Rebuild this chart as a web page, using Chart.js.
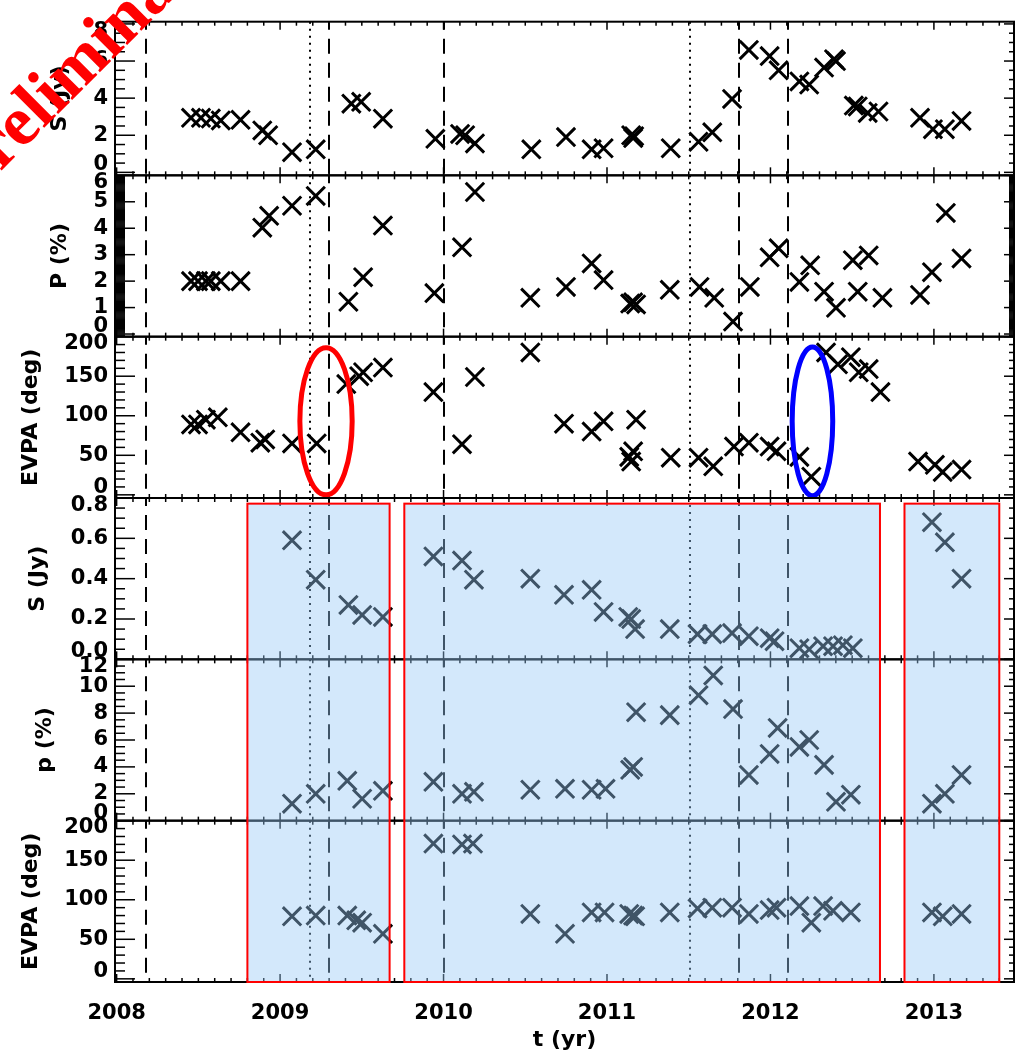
<!DOCTYPE html>
<html>
<head>
<meta charset="utf-8">
<script src="https://cdn.jsdelivr.net/npm/chart.js@4.4.1/dist/chart.umd.min.js"></script>
<style>
  html, body { margin: 0; padding: 0; background: #fff; }
  #wrap { position: relative; width: 1030px; height: 1056px; }
  #wrap canvas { position: absolute; left: 0; top: 0; }
  #c0 { z-index: 10; }
</style>
</head>
<body>
<div id="wrap">
  <canvas id="c0" width="1030" height="1056"></canvas>
  <canvas id="c1" width="1030" height="1056"></canvas>
  <canvas id="c2" width="1030" height="1056"></canvas>
  <canvas id="c3" width="1030" height="1056"></canvas>
  <canvas id="c4" width="1030" height="1056"></canvas>
  <canvas id="c5" width="1030" height="1056"></canvas>
</div>
<script>
// ---- data ----
const years = [2008, 2009, 2010, 2011, 2012, 2013];
const dashedT = [2008.18, 2009.30, 2010.0, 2011.81, 2012.11];
const dottedT = [2009.18, 2011.51];

// panel 1: total flux
const sTopT = [2008.455, 2008.516, 2008.576, 2008.637, 2008.758, 2008.891, 2008.927, 2009.073, 2009.218, 2009.436,
  2009.496, 2009.629, 2009.950, 2010.101, 2010.132, 2010.192, 2010.537, 2010.749, 2010.906, 2010.979,
  2011.148, 2011.160, 2011.166, 2011.390, 2011.560, 2011.644, 2011.765, 2011.868, 2011.995, 2012.050,
  2012.177, 2012.237, 2012.328, 2012.389, 2012.401, 2012.510, 2012.534, 2012.595, 2012.661, 2012.915,
  2012.994, 2013.067, 2013.169];
const sTopV = [2.94, 2.94, 2.9, 2.8, 2.83, 2.26, 2.0, 1.09, 1.24, 3.7,
  3.8, 2.89, 1.81, 2.07, 2.0, 1.56, 1.24, 1.9, 1.24, 1.3,
  2.0, 1.85, 1.95, 1.3, 1.65, 2.16, 3.96, 6.6, 6.27, 5.5,
  4.9, 4.73, 5.65, 6.1, 6.0, 3.6, 3.55, 3.2, 3.28, 2.94,
  2.33, 2.33, 2.77];

// panel 2: polarisation degree
const pTopT = [2008.455, 2008.498, 2008.546, 2008.576, 2008.637, 2008.758, 2008.891, 2008.933, 2009.073, 2009.218,
  2009.418, 2009.508, 2009.629, 2009.944, 2010.113, 2010.192, 2010.531, 2010.749, 2010.906, 2010.979,
  2011.142, 2011.160, 2011.178, 2011.384, 2011.566, 2011.656, 2011.771, 2011.874, 2011.995, 2012.050,
  2012.177, 2012.243, 2012.328, 2012.401, 2012.504, 2012.534, 2012.601, 2012.685, 2012.915, 2012.988,
  2013.073, 2013.169];
const pTopV = [2.0, 2.0, 2.0, 2.0, 2.0, 2.0, 4.02, 4.47, 4.85, 5.22,
  1.22, 2.15, 4.1, 1.55, 3.28, 5.37, 1.37, 1.78, 2.67, 2.04,
  1.15, 1.2, 1.12, 1.67, 1.78, 1.37, 0.47, 1.78, 2.9, 3.24,
  1.97, 2.6, 1.6, 0.99, 2.79, 1.6, 2.97, 1.37, 1.48, 2.34,
  4.58, 2.86];

// panel 3: EVPA
const evTopT = [2008.455, 2008.498, 2008.546, 2008.619, 2008.758, 2008.879, 2008.909, 2009.073, 2009.224, 2009.405,
  2009.484, 2009.508, 2009.629, 2009.938, 2010.113, 2010.192, 2010.531, 2010.737, 2010.906, 2010.979,
  2011.136, 2011.148, 2011.160, 2011.178, 2011.390, 2011.560, 2011.650, 2011.777, 2011.868, 2011.995,
  2012.037, 2012.177, 2012.250, 2012.340, 2012.413, 2012.492, 2012.540, 2012.601, 2012.673, 2012.903,
  2013.006, 2013.054, 2013.169];
const evTopV = [89, 89, 95, 98, 79, 66, 70, 65, 65, 140,
  150, 155, 161, 130, 64, 149, 180, 90, 80, 93,
  48, 42, 55, 95, 47, 47, 36, 61, 66, 61,
  55, 48, 23, 180, 165, 174, 155, 159, 130, 42,
  38, 29, 32];

// panel 4: flux (second band)
const sBotT = [2009.073, 2009.218, 2009.418, 2009.502, 2009.629, 2009.938, 2010.113, 2010.186, 2010.531, 2010.737,
  2010.906, 2010.979, 2011.130, 2011.148, 2011.172, 2011.384, 2011.554, 2011.644, 2011.765, 2011.868,
  2011.995, 2012.025, 2012.177, 2012.237, 2012.322, 2012.383, 2012.443, 2012.504, 2012.988, 2013.067,
  2013.169];
const sBotV = [0.59, 0.395, 0.27, 0.22, 0.21, 0.51, 0.49, 0.395, 0.40, 0.32,
  0.345, 0.235, 0.21, 0.20, 0.15, 0.15, 0.125, 0.125, 0.13, 0.115,
  0.105, 0.09, 0.055, 0.05, 0.065, 0.065, 0.07, 0.055, 0.68, 0.58,
  0.40];

// panel 5: polarisation degree (second band)
const pBotT = [2009.073, 2009.218, 2009.411, 2009.502, 2009.629, 2009.938, 2010.113, 2010.186, 2010.531, 2010.743,
  2010.906, 2010.991, 2011.142, 2011.160, 2011.178, 2011.384, 2011.560, 2011.650, 2011.771, 2011.868,
  2011.995, 2012.044, 2012.177, 2012.237, 2012.328, 2012.401, 2012.492, 2012.988, 2013.067, 2013.169];
const pBotV = [1.26, 2.0, 2.96, 1.63, 2.22, 2.89, 2.0, 2.15, 2.3, 2.37,
  2.3, 2.37, 3.78, 4.0, 8.07, 7.85, 9.33, 10.8, 8.3, 3.4,
  4.96, 6.9, 5.48, 6.0, 4.15, 1.4, 1.93, 1.26, 2.0, 3.4];

// panel 6: EVPA (second band)
const evBotT = [2009.073, 2009.218, 2009.411, 2009.466, 2009.502, 2009.629, 2009.938, 2010.113, 2010.180, 2010.531,
  2010.743, 2010.906, 2010.985, 2011.136, 2011.160, 2011.172, 2011.384, 2011.554, 2011.644, 2011.765,
  2011.868, 2011.995, 2012.037, 2012.177, 2012.250, 2012.322, 2012.383, 2012.492, 2012.988, 2013.054,
  2013.169];
const evBotV = [79, 80, 80, 74, 71, 57, 171, 170, 171, 82,
  57, 84, 84, 82, 80, 79, 84, 89, 90, 90,
  82, 87, 90, 92, 71, 92, 86, 84, 84, 79,
  82];

// tick labels
const sTopTicks = [0, 2, 4, 6, 8];
const pTopTicks = [0, 1, 2, 3, 4, 5, 6];
const evTicks = [0, 50, 100, 150, 200];
const sBotTicks = [0, 0.2, 0.4, 0.6, 0.8];
const pBotTicks = [0, 2, 4, 6, 8, 10, 12];

// highlighted time ranges (panels 4-6) and marked epochs (panel 3)
const boxStart = [2008.80, 2009.76, 2012.82];
const boxEnd = [2009.67, 2012.67, 2013.40];
const boxTopS = 0.772;
const ringT = [2009.281, 2012.257];
const ringEvpa = [93, 93];
const ringHalfT = [0.16, 0.124];
const ringHalfEvpa = [93, 94];
const ringColor = ['#ff0000', '#0000ff'];

// ---- layout ----
const X_MIN = 2007.99, X_MAX = 2013.49;
const W = 1030, H = 1056, TOP = 14, BOTTOM = 982, AXIS_W = 115, RIGHT_PAD = 5;
const PANEL_H = (BOTTOM - TOP) / 6;
const FONT = 'DejaVu Sans';

const panels = [
  { t: sTopT, v: sTopV, min: -0.16, max: 8.12, ticks: sTopTicks, major: 2, minor: 0.5, title: 'S (Jy)', dec: 0 },
  { t: pTopT, v: pTopV, min: -0.1, max: 6, ticks: pTopTicks, major: 1, minor: 0.04, title: 'P (%)', dec: 0 },
  { t: evTopT, v: evTopV, min: -4, max: 200, ticks: evTicks, major: 50, minor: 10, title: 'EVPA (deg)', dec: 0 },
  { t: sBotT, v: sBotV, min: 0, max: 0.8, ticks: sBotTicks, major: 0.2, minor: 0.05, title: 'S (Jy)', dec: 1 },
  { t: pBotT, v: pBotV, min: 0, max: 12, ticks: pBotTicks, major: 2, minor: 0.5, title: 'p (%)', dec: 0 },
  { t: evBotT, v: evBotV, min: -4, max: 200, ticks: evTicks, major: 50, minor: 10, title: 'EVPA (deg)', dec: 0 }
];

const charts = [];

function seg(ctx, x1, y1, x2, y2) { ctx.beginPath(); ctx.moveTo(x1, y1); ctx.lineTo(x2, y2); ctx.stroke(); }

const panelDeco = {
  id: 'panelDeco',
  beforeDatasetsDraw(chart) {
    const { ctx, chartArea: a, scales: { x } } = chart;
    ctx.save();
    ctx.beginPath(); ctx.rect(a.left, a.top, a.right - a.left, a.bottom - a.top); ctx.clip();
    ctx.strokeStyle = '#000'; ctx.lineWidth = 2;
    [[dashedT, [15, 9], 7], [dottedT, [2, 5], 0]].forEach(([arr, dash, off]) => {
      ctx.setLineDash(dash); ctx.lineDashOffset = off;
      arr.forEach(t => { const px = Math.round(x.getPixelForValue(t)); seg(ctx, px, a.top, px, a.bottom); });
    });
    ctx.restore();
  },
  afterDatasetsDraw(chart, args, o) {
    const { ctx, chartArea: a, scales: { x, y } } = chart;
    const p = panels[o.idx];
    ctx.save();
    ctx.strokeStyle = '#000'; ctx.lineWidth = 1.5;
    // x ticks, top and bottom, inward
    for (let k = Math.ceil(X_MIN * 10); k <= Math.floor(X_MAX * 10); k++) {
      const px = x.getPixelForValue(k / 10);
      const len = k % 10 === 0 ? 8 : 4;
      seg(ctx, px, a.bottom, px, a.bottom - len);
      seg(ctx, px, a.top, px, a.top + len);
    }
    // y ticks, left long, right short
    const n0 = Math.ceil(p.min / p.minor - 1e-6), n1 = Math.floor(p.max / p.minor + 1e-6);
    for (let k = n0; k <= n1; k++) {
      const v = k * p.minor, py = y.getPixelForValue(v);
      const major = Math.abs(v / p.major - Math.round(v / p.major)) < 1e-6;
      seg(ctx, a.left, py, a.left + (major ? 20 : 10), py);
      seg(ctx, a.right, py, a.right - (major ? 10 : 5), py);
    }
    ctx.lineWidth = 2;
    ctx.strokeRect(a.left, a.top, a.right - a.left, a.bottom - a.top);
    // y title, left of the widest tick label
    ctx.font = `bold 21px "${FONT}"`;
    const maxW = Math.max(...p.ticks.map(v => ctx.measureText(v.toFixed(p.dec)).width));
    ctx.font = `bold 22px "${FONT}"`;
    ctx.fillStyle = '#000';
    ctx.translate(a.left - 7 - maxW - 22 - 11, (a.top + a.bottom) / 2);
    ctx.rotate(-Math.PI / 2);
    ctx.textAlign = 'center'; ctx.textBaseline = 'middle';
    ctx.fillText(p.title, 0, 0);
    ctx.restore();
  },
  afterDraw(chart, args, o) {
    const { ctx, chartArea: a, scales: { x, y } } = chart;
    if (o.rings) {
      ctx.save();
      ctx.lineWidth = 5;
      ringT.forEach((t, i) => {
        const cx = x.getPixelForValue(t), cy = y.getPixelForValue(ringEvpa[i]);
        const rx = Math.abs(x.getPixelForValue(t + ringHalfT[i]) - cx);
        const ry = Math.abs(y.getPixelForValue(ringEvpa[i] + ringHalfEvpa[i]) - cy);
        ctx.strokeStyle = ringColor[i];
        ctx.beginPath(); ctx.ellipse(cx, cy, rx, ry, 0, 0, Math.PI * 2); ctx.stroke();
      });
      ctx.restore();
    }
    if (o.boxes) {
      const top = charts[3].scales.y.getPixelForValue(boxTopS);
      ctx.save();
      boxStart.forEach((t0, i) => {
        const x0 = x.getPixelForValue(t0), x1 = x.getPixelForValue(boxEnd[i]);
        ctx.fillStyle = 'rgba(151,200,245,0.42)';
        ctx.fillRect(x0, top, x1 - x0, a.bottom - top);
        ctx.strokeStyle = '#ff0000'; ctx.lineWidth = 2;
        ctx.strokeRect(x0, top, x1 - x0, a.bottom - top);
      });
      ctx.restore();
    }
    if (o.stamp) {
      ctx.save();
      ctx.fillStyle = '#ff0000';
      ctx.font = 'bold 70px "Liberation Serif"';
      ctx.translate(-30, 202);
      ctx.rotate(-Math.PI / 4);
      ctx.fillText('Preliminary', 0, 0);
      ctx.restore();
    }
  }
};

// edge labels sit just inside the panel: pad them with an empty line
function edgeLabel(text, idx, n) {
  if (idx === 0) return [text, ''];
  if (idx === n - 1) return ['', text];
  return text;
}

panels.forEach((p, i) => {
  const last = i === panels.length - 1;
  const top = TOP + i * PANEL_H, bottom = top + PANEL_H;
  const tickFont = { family: FONT, size: 21, weight: 'bold' };
  charts.push(new Chart(document.getElementById('c' + i), {
    type: 'scatter',
    data: {
      datasets: [{
        data: p.t.map((t, k) => ({ x: t, y: p.v[k] })),
        pointStyle: 'crossRot', pointRadius: 13, pointBorderWidth: 3,
        borderColor: '#000', backgroundColor: '#000', showLine: false
      }]
    },
    options: {
      responsive: false, animation: false, events: [],
      layout: { padding: { top: top, bottom: last ? 0 : H - bottom, left: 0, right: RIGHT_PAD } },
      plugins: {
        legend: { display: false }, tooltip: { enabled: false },
        panelDeco: { idx: i, rings: i === 2, boxes: last, stamp: i === 0 }
      },
      scales: {
        x: {
          type: 'linear', min: X_MIN, max: X_MAX, display: last,
          afterBuildTicks: s => { s.ticks = years.map(v => ({ value: v })); },
          afterFit: s => { if (last) s.height = H - BOTTOM; },
          grid: { display: false, drawTicks: false }, border: { display: false },
          ticks: { padding: 19, maxRotation: 0, autoSkip: false, color: '#000', font: tickFont, callback: v => String(v) },
          title: { display: last, text: 't (yr)', color: '#000', padding: { top: 0, bottom: 3 }, font: { family: FONT, size: 22, weight: 'bold' } }
        },
        y: {
          type: 'linear', min: p.min, max: p.max,
          afterBuildTicks: s => { s.ticks = p.ticks.map(v => ({ value: v })); },
          afterFit: s => { s.width = AXIS_W; },
          grid: { display: false, drawTicks: false }, border: { display: false },
          ticks: {
            padding: 7, autoSkip: false, color: '#000',
            font: { family: FONT, size: 21, weight: 'bold', lineHeight: 0.7 },
            callback: (v, idx, arr) => edgeLabel(v.toFixed(p.dec), idx, arr.length)
          }
        }
      }
    },
    plugins: [panelDeco]
  }));
});
</script>
</body>
</html>
